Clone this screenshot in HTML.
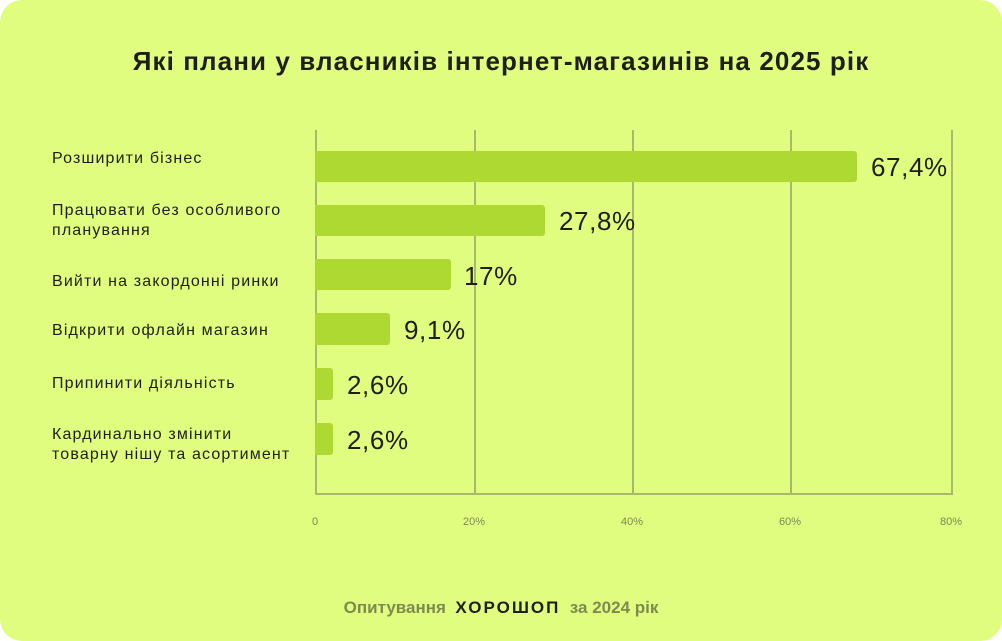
<!DOCTYPE html>
<html><head><meta charset="utf-8"><style>
body{margin:0;background:#fff;}
.card{position:absolute;left:0;top:0;width:1002px;height:641px;background:#e1fd80;border-radius:22px;font-family:"Liberation Sans",sans-serif;overflow:hidden}
.t{position:absolute;left:0;width:1002px;top:46px;text-align:center;font-size:26px;letter-spacing:1.1px;font-weight:bold;color:#1d1f14}
.lab{position:absolute;left:52px;font-size:16px;letter-spacing:1.15px;color:#1d1f14;line-height:20px}
.bar{position:absolute;left:315px;background:#add932;border-radius:0 3px 3px 0}
.val{position:absolute;font-size:26px;letter-spacing:0.6px;color:#1d1f14}
.g{position:absolute;top:130px;height:364px;width:1.5px;background:#a9b869}
.tk{position:absolute;top:516px;font-size:11px;color:#7a8a52}
.f{position:absolute;left:0;width:1002px;top:598px;text-align:center;font-size:17px;font-weight:bold;color:#7d8b4f}
</style></head><body><div class="card">
<div class="t">Які плани у власників інтернет-магазинів на 2025 рік</div>
<div class="g" style="left:315px"></div><div class="g" style="left:474px"></div><div class="g" style="left:632px"></div><div class="g" style="left:790px"></div><div class="g" style="left:951px"></div>
<div style="position:absolute;left:315px;top:493px;width:638px;height:1.5px;background:#a9b869"></div>
<div class="tk" style="left:312px">0</div><div class="tk" style="left:463px">20%</div><div class="tk" style="left:621px">40%</div><div class="tk" style="left:779px">60%</div><div class="tk" style="left:940px">80%</div>
<div class="lab" style="top:149px">Розширити бізнес</div>
<div class="lab" style="top:201px">Працювати без особливого<br>планування</div>
<div class="lab" style="top:272px">Вийти на закордонні ринки</div>
<div class="lab" style="top:321px">Відкрити офлайн магазин</div>
<div class="lab" style="top:374px">Припинити діяльність</div>
<div class="lab" style="top:425px">Кардинально змінити<br>товарну нішу та асортимент</div>
<div class="bar" style="top:151px;height:31px;width:542px"></div><div class="val" style="left:871px;top:152px">67,4%</div>
<div class="bar" style="top:205px;height:31px;width:230px"></div><div class="val" style="left:559px;top:206px">27,8%</div>
<div class="bar" style="top:259px;height:31px;width:136px"></div><div class="val" style="left:464px;top:261px">17%</div>
<div class="bar" style="top:313px;height:32px;width:75px"></div><div class="val" style="left:404px;top:315px">9,1%</div>
<div class="bar" style="top:368px;height:32px;width:18px"></div><div class="val" style="left:347px;top:370px">2,6%</div>
<div class="bar" style="top:423px;height:32px;width:18px"></div><div class="val" style="left:347px;top:425px">2,6%</div>
<div class="f">Опитування &nbsp;<span style="color:#1d1f14;letter-spacing:2px">ХОРОШОП</span>&nbsp; за 2024 рік</div>
</div></body></html>
